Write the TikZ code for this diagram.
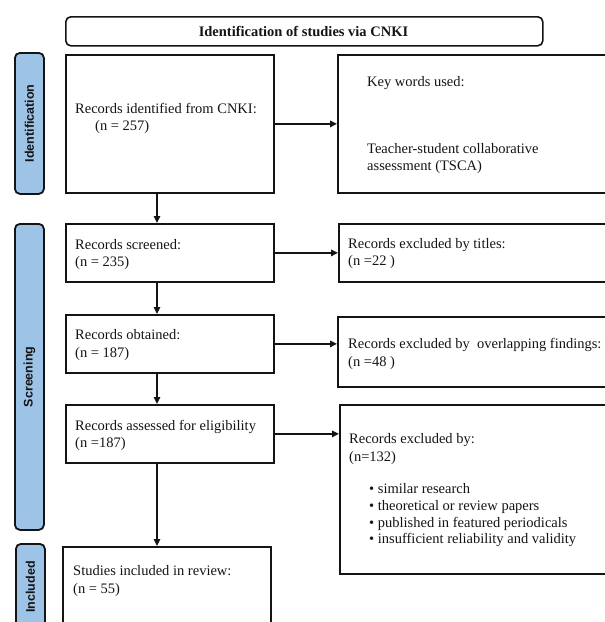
\documentclass[tikz,border=0pt]{standalone}
\usepackage{fontspec}
\setmainfont{Liberation Serif}
\setsansfont{Liberation Sans}
\usetikzlibrary{arrows.meta}
\definecolor{lblue}{RGB}{157,195,230}
\definecolor{ink}{RGB}{20,20,20}
\begin{document}
\begin{tikzpicture}[x=1pt,y=-1pt,
  box/.style={draw=ink, line width=1.8pt, anchor=north west, inner sep=0pt},
  side/.style={draw=ink, fill=lblue, line width=1.8pt, rounded corners=5pt, anchor=north west, inner sep=0pt},
  sidetxt/.style={rotate=90, inner sep=0pt, font=\sffamily\bfseries\fontsize{12.5}{14}\selectfont, text=ink},
  txt/.style={anchor=base west, inner sep=0pt, font=\fontsize{14.5}{17}\selectfont, text=ink},
  arr/.style={draw=ink, line width=1.5pt, -{Triangle[length=7pt,width=6.5pt]}},
]
\useasboundingbox (0,0) rectangle (605,622);
\clip (0,0) rectangle (605,622);

% title
\node[box, rounded corners=5pt, line width=1.6pt, minimum width=477pt, minimum height=29pt] (title) at (65,16) {};
\node[txt, anchor=base, font=\bfseries\fontsize{14.5}{17}\selectfont] (titletxt) at (303.5,36) {Identification of studies via CNKI};

% side labels
\node[side, minimum width=29pt, minimum height=141pt] (sid) at (14,52) {};
\node[sidetxt] (sidt) at (sid.center) {Identification};
\node[side, minimum width=29pt, minimum height=306pt] (sscr) at (14,223) {};
\node[sidetxt] (sscrt) at (sscr.center) {Screening};
\node[side, minimum width=29pt, minimum height=86pt] (sinc) at (15,543) {};
\node[sidetxt] (sinct) at (sinc.center) {Included};

% boxes
\node[box, minimum width=208pt, minimum height=138pt] (A) at (65,54) {};
\node[box, minimum width=300pt, minimum height=138pt] (B) at (337,54) {};
\node[box, minimum width=208pt, minimum height=58pt] (C) at (65,223) {};
\node[box, minimum width=300pt, minimum height=58pt] (D) at (338,223) {};
\node[box, minimum width=208pt, minimum height=58pt] (E) at (65,314) {};
\node[box, minimum width=300pt, minimum height=70pt] (F) at (337,316) {};
\node[box, minimum width=208pt, minimum height=58pt] (G) at (65,404) {};
\node[box, minimum width=300pt, minimum height=169pt] (H) at (339,404) {};
\node[box, minimum width=208pt, minimum height=100pt] (I) at (62,546) {};

% texts
\node[txt] (a1) at (75,113) {Records identified from CNKI:};
\node[txt] (a2) at (95,130) {(n = 257)};
\node[txt] (b1) at (367,86) {Key words used:};
\node[txt] (b2) at (367,153) {Teacher-student collaborative};
\node[txt] (b3) at (367,170) {assessment (TSCA)};
\node[txt] (c1) at (75,249) {Records screened:};
\node[txt] (c2) at (75,266) {(n = 235)};
\node[txt] (d1) at (348,248) {Records excluded by titles:};
\node[txt] (d2) at (348,265) {(n =22 )};
\node[txt] (e1) at (75,339) {Records obtained:};
\node[txt] (e2) at (75,357) {(n = 187)};
\node[txt] (f1) at (348,348) {Records excluded by\ \ overlapping findings:};
\node[txt] (f2) at (348,366) {(n =48 )};
\node[txt] (g1) at (75,430) {Records assessed for eligibility};
\node[txt] (g2) at (75,447) {(n =187)};
\node[txt] (h1) at (349,443) {Records excluded by:};
\node[txt] (h2) at (349,461) {(n=132)};
\node[txt] (h3) at (369,493) {• similar research};
\node[txt] (h4) at (369,510) {• theoretical or review papers};
\node[txt] (h5) at (369,527) {• published in featured periodicals};
\node[txt] (h6) at (369,543) {• insufficient reliability and validity};
\node[txt] (i1) at (73,575) {Studies included in review:};
\node[txt] (i2) at (73,593) {(n = 55)};

% connectors
\draw[arr] (A.east) -- (A.east -| B.west);
\draw[arr] (C.east) -- (C.east -| D.west);
\draw[arr] (E.east) -- (E.east -| F.west);
\draw[arr] (G.east) -- (G.east -| H.west);
\draw[arr] ([xshift=92pt]A.south west) -- ([xshift=92pt]C.north west);
\draw[arr] ([xshift=92pt]C.south west) -- ([xshift=92pt]E.north west);
\draw[arr] ([xshift=92pt]E.south west) -- ([xshift=92pt]G.north west);
\draw[arr] ([xshift=92pt]G.south west) -- ([xshift=92pt]G.south west |- I.north);
\end{tikzpicture}
\end{document}
